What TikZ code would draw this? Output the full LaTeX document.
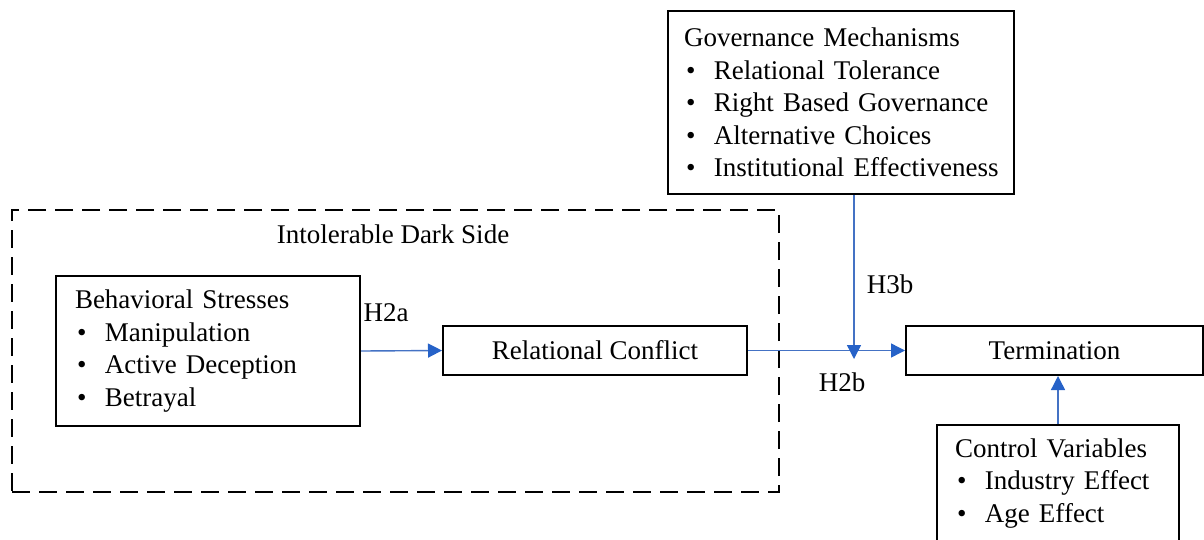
\documentclass[tikz,border=0pt]{standalone}
\usepackage{fontspec}
\setmainfont{Liberation Serif}
\usetikzlibrary{arrows.meta}
\definecolor{lnblue}{RGB}{68,114,196}
\definecolor{tipblue}{RGB}{38,98,200}
\newcommand{\itm}[1]{\mbox{\makebox[30pt][l]{\hspace{2pt}\textbullet}#1}}
\newcommand{\hd}[1]{\mbox{#1}}
\begin{document}
\begin{tikzpicture}[x=1pt,y=-1pt,
  every node/.style={font=\fontsize{27}{32.5}\selectfont},
  box/.style={draw=black, line width=2pt, inner sep=0pt, align=left},
  lbl/.style={anchor=base, inner sep=0pt},
  conn/.style={draw=lnblue, line width=1.4pt, -{Triangle[length=14pt,width=14pt,fill=tipblue,color=tipblue]}}]
\useasboundingbox (0,0) rectangle (1204,539);
\clip (0,0) rectangle (1204,539);
% group box
\node[draw=black, line width=2pt, dash pattern=on 18pt off 9pt, minimum width=767pt, minimum height=282pt, inner sep=0pt] (dark) at (395.5,351) {};
\node[lbl] (darklbl) at (393,243) {Intolerable Dark Side};
% boxes
\node[box, minimum width=346pt, minimum height=183pt, text width=314pt] (gov) at (841,102.5)
  {\hd{Governance Mechanisms}\\ \itm{Relational Tolerance}\\ \itm{Right Based Governance}\\ \itm{Alternative Choices}\\ \itm{Institutional Effectiveness}};
\node[box, minimum width=304pt, minimum height=150pt, text width=266pt] (beh) at (208,351)
  {\hd{Behavioral Stresses}\\ \itm{Manipulation}\\ \itm{Active Deception}\\ \itm{Betrayal}};
\node[box, minimum width=304pt, minimum height=49pt, align=center] (rc) at (595,350.5) {Relational Conflict};
\node[box, minimum width=297pt, minimum height=49pt, align=center] (term) at (1054.5,350.5) {Termination};
\node[box, minimum width=242pt, minimum height=117pt, text width=206pt] (ctrl) at (1058,483.5)
  {\hd{Control Variables}\\ \itm{Industry Effect}\\ \itm{Age Effect}};
% labels
\node[lbl] (h2a) at (386,321) {H2a};
\node[lbl] (h2b) at (842,391) {H2b};
\node[lbl] (h3b) at (890,293) {H3b};
% connectors
\coordinate (jt) at (854,359);
\draw[conn] (beh.east) -- (rc.west);
\draw[conn] (rc.east) -- (term.west);
\draw[conn] (gov.south -| jt) -- (jt);
\draw[conn] (ctrl.north) -- (ctrl.north |- term.south);
\end{tikzpicture}
\end{document}
